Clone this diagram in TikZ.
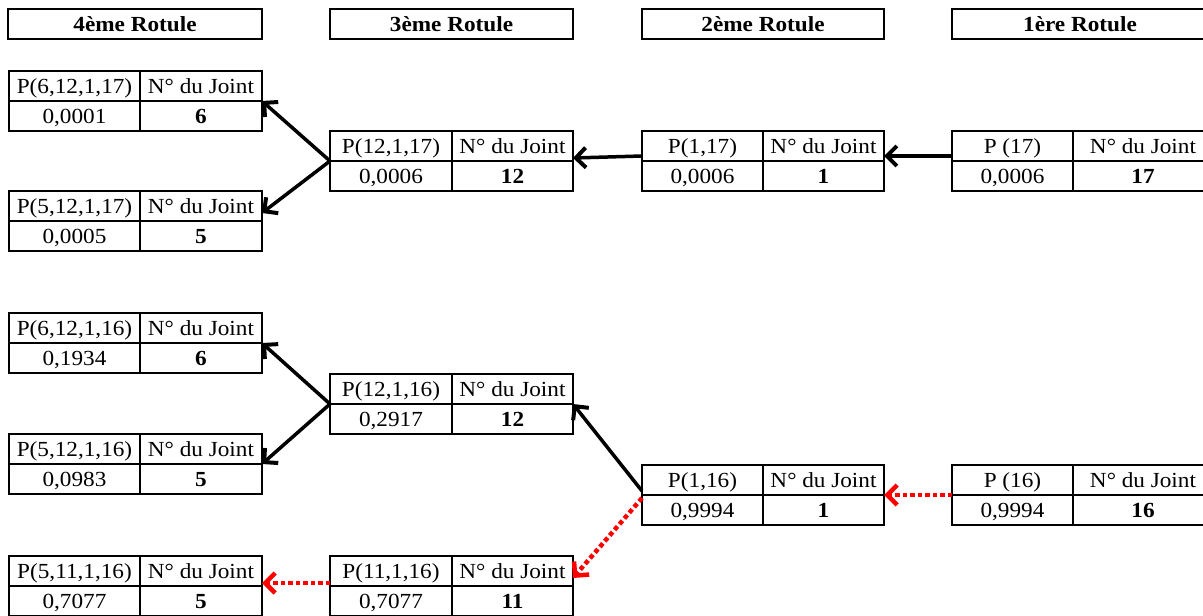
\documentclass[tikz,border=0pt]{standalone}
\usepackage{fontspec}
\setmainfont{Liberation Serif}[FakeStretch=1.08]
\usetikzlibrary{arrows.meta}
\tikzset{
  cell/.style={draw, line width=2pt, inner sep=0pt, outer sep=0pt, minimum height=30pt, text height=22pt, text depth=8pt, anchor=north west, font=\fontsize{21.5}{26}\selectfont},
  head/.style={draw, line width=2pt, inner sep=0pt, outer sep=0pt, minimum height=30pt, text height=22pt, text depth=8pt, anchor=north west, font=\fontsize{21.5}{26}\selectfont\bfseries},
  blk/.style={line width=3.5pt, black, -{Straight Barb[length=10pt,width=20pt,line width=4pt]}},
  redarr/.style={line width=4.5pt, red, dash pattern=on 4.5pt off 3pt, -{Straight Barb[length=10pt,width=20pt,line width=4.5pt]}}
}
\newcommand{\jtab}[8]{%
  \node[cell, minimum width=#4pt] (#1a) at (#2,#3) {#6};
  \node[cell, minimum width=#5pt] (#1b) at (#1a.north east) {N° du Joint};
  \node[cell, minimum width=#4pt] (#1c) at (#1a.south west) {#7};
  \node[cell, minimum width=#5pt] (#1d) at (#1b.south west) {\textbf{#8}};
}
\begin{document}
\begin{tikzpicture}[x=1pt,y=-1pt]
\useasboundingbox (0,0) rectangle (1203,616);
% headers
\node[head, minimum width=254pt] (h4) at (8,9) {4ème Rotule};
\node[head, minimum width=243pt] (h3) at (330,9) {3ème Rotule};
\node[head, minimum width=242pt] (h2) at (642,9) {2ème Rotule};
\node[head, minimum width=262pt] (h1) at (952,9) {\hspace*{-6pt}1ère Rotule};
% top group
\jtab{t1}{9}{71}{131}{122}{P(6,12,1,17)}{0,0001}{6}
\jtab{t2}{9}{191}{131}{122}{P(5,12,1,17)}{0,0005}{5}
\jtab{t3}{330}{131}{122}{121}{P(12,1,17)}{0,0006}{12}
\jtab{t4}{642}{131}{121}{121}{P(1,17)}{0,0006}{1}
\jtab{t5}{952}{131}{121}{140}{P (17)}{0,0006}{17}
% lower group
\jtab{l1}{9}{313}{131}{122}{P(6,12,1,16)}{0,1934}{6}
\jtab{l2}{9}{434}{131}{122}{P(5,12,1,16)}{0,0983}{5}
\jtab{l3}{9}{556}{131}{122}{P(5,11,1,16)}{0,7077}{5}
\jtab{l4}{330}{374}{122}{121}{P(12,1,16)}{0,2917}{12}
\jtab{l5}{330}{556}{122}{121}{P(11,1,16)}{0,7077}{11}
\jtab{l6}{642}{465}{121}{121}{P(1,16)}{0,9994}{1}
\jtab{l7}{952}{465}{121}{140}{P (16)}{0,9994}{16}
% connectors top
\draw[blk] (t3a.south west) -- (t1b.south east);
\draw[blk] (t3a.south west) -- ([yshift=8pt]t2b.south east);
\draw[blk] ([yshift=5pt]t4a.south west) -- ([yshift=3pt]t3b.south east);
\draw[blk] ([yshift=5pt]t5a.south west) -- ([yshift=5pt]t4b.south east);
% connectors lower
\draw[blk] (l4a.south west) -- (l1b.south east);
\draw[blk] (l4a.south west) -- (l2b.south east);
\draw[blk] ([yshift=4pt]l6a.south west) -- (l4b.south east);
\draw[redarr] (l7a.south west) -- (l6b.south east);
\draw[redarr] ([yshift=-3pt]l6a.south west) -- ([yshift=8pt]l5b.south east);
\draw[redarr] ([yshift=3pt]l5a.south west) -- ([yshift=3pt]l3b.south east);
\end{tikzpicture}
\end{document}
